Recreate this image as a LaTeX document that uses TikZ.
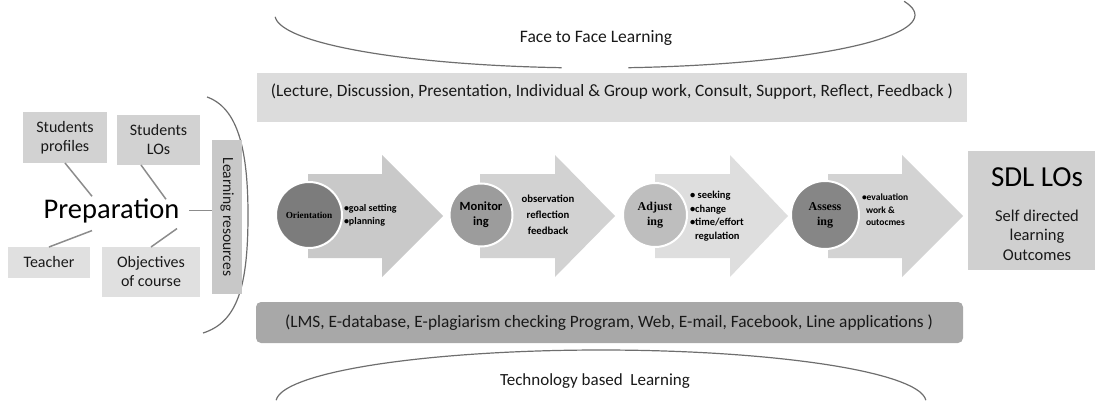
\documentclass[tikz,border=0pt]{standalone}
\usepackage{fontspec}
\usepackage{graphicx}
\setmainfont{Carlito}[BoldFont={Carlito Bold}]
\newfontfamily\serifb{Liberation Serif}[BoldFont={Liberation Serif Bold}]
\usetikzlibrary{calc}
\definecolor{curvegray}{HTML}{6E6E6E}
\definecolor{linkgray}{HTML}{8C8C8C}
\definecolor{boxA}{HTML}{D2D2D2}
\definecolor{boxB}{HTML}{E0E0E0}
\definecolor{boxLR}{HTML}{C8C8C8}
\definecolor{barTop}{HTML}{DCDCDC}
\definecolor{barBot}{HTML}{A8A8A8}
\definecolor{sdlgray}{HTML}{D0D0D0}
\definecolor{arA}{HTML}{C9C9C9}
\definecolor{arB}{HTML}{D2D2D2}
\definecolor{arC}{HTML}{DEDEDE}
\definecolor{arD}{HTML}{D3D3D3}
\definecolor{ciA}{HTML}{7C7C7C}
\definecolor{ciB}{HTML}{9C9C9C}
\definecolor{ciC}{HTML}{BEBEBE}
\definecolor{ciD}{HTML}{868686}
\begin{document}
\begin{tikzpicture}[x=1pt,y=-1pt,
  every node/.style={inner sep=0pt, outer sep=0pt, text=black!90},
  graybox/.style={fill=#1, align=center, font=\fontsize{16}{19}\selectfont},
  curve/.style={draw=curvegray, line width=1.2pt},
  link/.style={draw=linkgray, line width=1.5pt},
  chev/.style={fill=#1, draw=none},
  stage/.style={circle, draw=white, line width=2pt, fill=#1, align=center, text=black},
  bul/.style={align=left, text=black},
]
\useasboundingbox (0,0) rectangle (1098,404);

% --- face to face curve (top)
\draw[curve] plot[smooth, domain=178:96, samples=40] ({595+320*cos(\x)},{15+53*sin(\x)});
\draw[curve] plot[smooth, domain=84:-15, samples=40] ({595+320*cos(\x)},{15+53*sin(\x)});
\node[font=\fontsize{17.5}{20}\selectfont] (f2f) at (596,38) {Face to Face Learning};

% --- top bar
\node[fill=barTop, minimum width=710pt, minimum height=49pt] (topbar) at (612,97.5) {};
\node (toptext) at (612,92) {\resizebox{682pt}{!}{\fontsize{17}{20}\selectfont (Lecture, Discussion, Presentation, Individual \& Group work, Consult, Support, Reflect, Feedback )}};

% --- bottom bar
\node[fill=barBot, rounded corners=5pt, minimum width=707pt, minimum height=41pt] (botbar) at (609.5,322.5) {};
\node (bottext) at (609,323) {\resizebox{648pt}{!}{\fontsize{17}{20}\selectfont (LMS, E-database, E-plagiarism checking Program, Web, E-mail, Facebook, Line applications )}};

% --- technology curve (bottom)
\draw[curve] plot[smooth, domain=182:358, samples=60] ({601+325*cos(\x)},{402+52*sin(\x)});
\node[font=\fontsize{17}{20}\selectfont] (tech) at (595,381) {Technology based\ \ Learning};

% --- bracket behind learning resources
\draw[curve] (207,97) .. controls (238,108) and (248,150) .. (248,215) .. controls (248,285) and (238,322) .. (203,333);

% --- preparation cluster
\node[graybox=boxA, minimum width=84pt, minimum height=51pt] (profiles) at (65,137.5) {Students\\profiles};
\node[graybox=boxA, minimum width=83pt, minimum height=50pt] (slos) at (158.5,140) {Students\\LOs};
\node[graybox=boxB, minimum width=82pt, minimum height=31pt] (teacher) at (49,262.5) {Teacher};
\node[graybox=boxB, minimum width=98pt, minimum height=50pt] (objectives) at (151,272) {Objectives\\of course};
\node[graybox=boxLR, minimum width=30pt, minimum height=154pt] (lr) at (227,217) {};
\node[rotate=-90, font=\fontsize{15.5}{18}\selectfont] (lrtext) at (lr.center) {Learning resources};
\node[anchor=base, font=\fontsize{28.5}{32}\selectfont, text=black] (prep) at (111.5,218) {Preparation};

\draw[link] (profiles.south) -- ($(prep.north)+(-19.5,-2)$);
\draw[link] ([xshift=-17.5pt]slos.south) -- ($(prep.north)+(54.5,1)$);
\draw[link] (teacher.north) -- ($(prep.south)+(-19.5,8)$);
\draw[link] (objectives.north) -- ($(prep.south)+(65.5,6)$);
\draw[link] ($(prep.east)+(10,0)$) -- (lr.west |- prep.east);

% --- chevron arrows
\fill[chev=arA] (308,174) -- (382,174) -- (382,155) -- (443,216) -- (382,277) -- (382,258) -- (308,258) -- cycle;
\fill[chev=arB] (480,174) -- (555,174) -- (555,155) -- (615,216) -- (555,277) -- (555,258) -- (480,258) -- cycle;
\fill[chev=arC] (655,174) -- (730,174) -- (730,155) -- (788,216) -- (730,277) -- (730,258) -- (655,258) -- cycle;
\fill[chev=arD] (828,174) -- (902,174) -- (902,155) -- (963,216) -- (902,277) -- (902,258) -- (828,258) -- cycle;

% --- stage circles
\node[stage=ciA, minimum size=66pt, font=\serifb\bfseries\fontsize{9.3}{11}\selectfont] (orient) at (309,215) {Orientation};
\node[stage=ciB, minimum size=63pt, font=\bfseries\fontsize{12.5}{15}\selectfont] (monitor) at (481,215) {Monitor\\ing};
\node[stage=ciC, minimum size=64pt, font=\serifb\bfseries\fontsize{12}{15}\selectfont] (adjust) at (655,215) {Adjust\\ing};
\node[stage=ciD, minimum size=68pt, font=\serifb\bfseries\fontsize{12}{15}\selectfont] (assess) at (825,215) {Assess\\ing};

% --- stage details
\node[bul, anchor=west, font=\bfseries\fontsize{10}{13}\selectfont] (orientd) at (344,215) {•goal setting\\•planning};
\node[font=\bfseries\fontsize{10.7}{16}\selectfont, align=center, text=black] (monitord) at (548,215) {observation\\reflection\\feedback};
\node[bul, anchor=west, font=\bfseries\fontsize{10.5}{13.5}\selectfont] (adjustd) at (690,216) {• seeking\\•change\\•time/effort\\\hspace*{5pt}regulation};
\node[bul, anchor=west, font=\bfseries\fontsize{9.5}{12.5}\selectfont] (assessd) at (862,210) {•evaluation\\\hspace*{4pt}work \&\\\hspace*{4pt}outocmes};

% --- outcome box
\node[fill=sdlgray, minimum width=127pt, minimum height=119pt] (sdl) at (1031.5,210.5) {};
\node[font=\fontsize{29}{32}\selectfont, text=black] (sdltitle) at (1037,177) {SDL LOs};
\node[font=\fontsize{16.5}{19.5}\selectfont, align=center] (sdltext) at (1037,235) {Self directed\\learning\\Outcomes};
\end{tikzpicture}
\end{document}
